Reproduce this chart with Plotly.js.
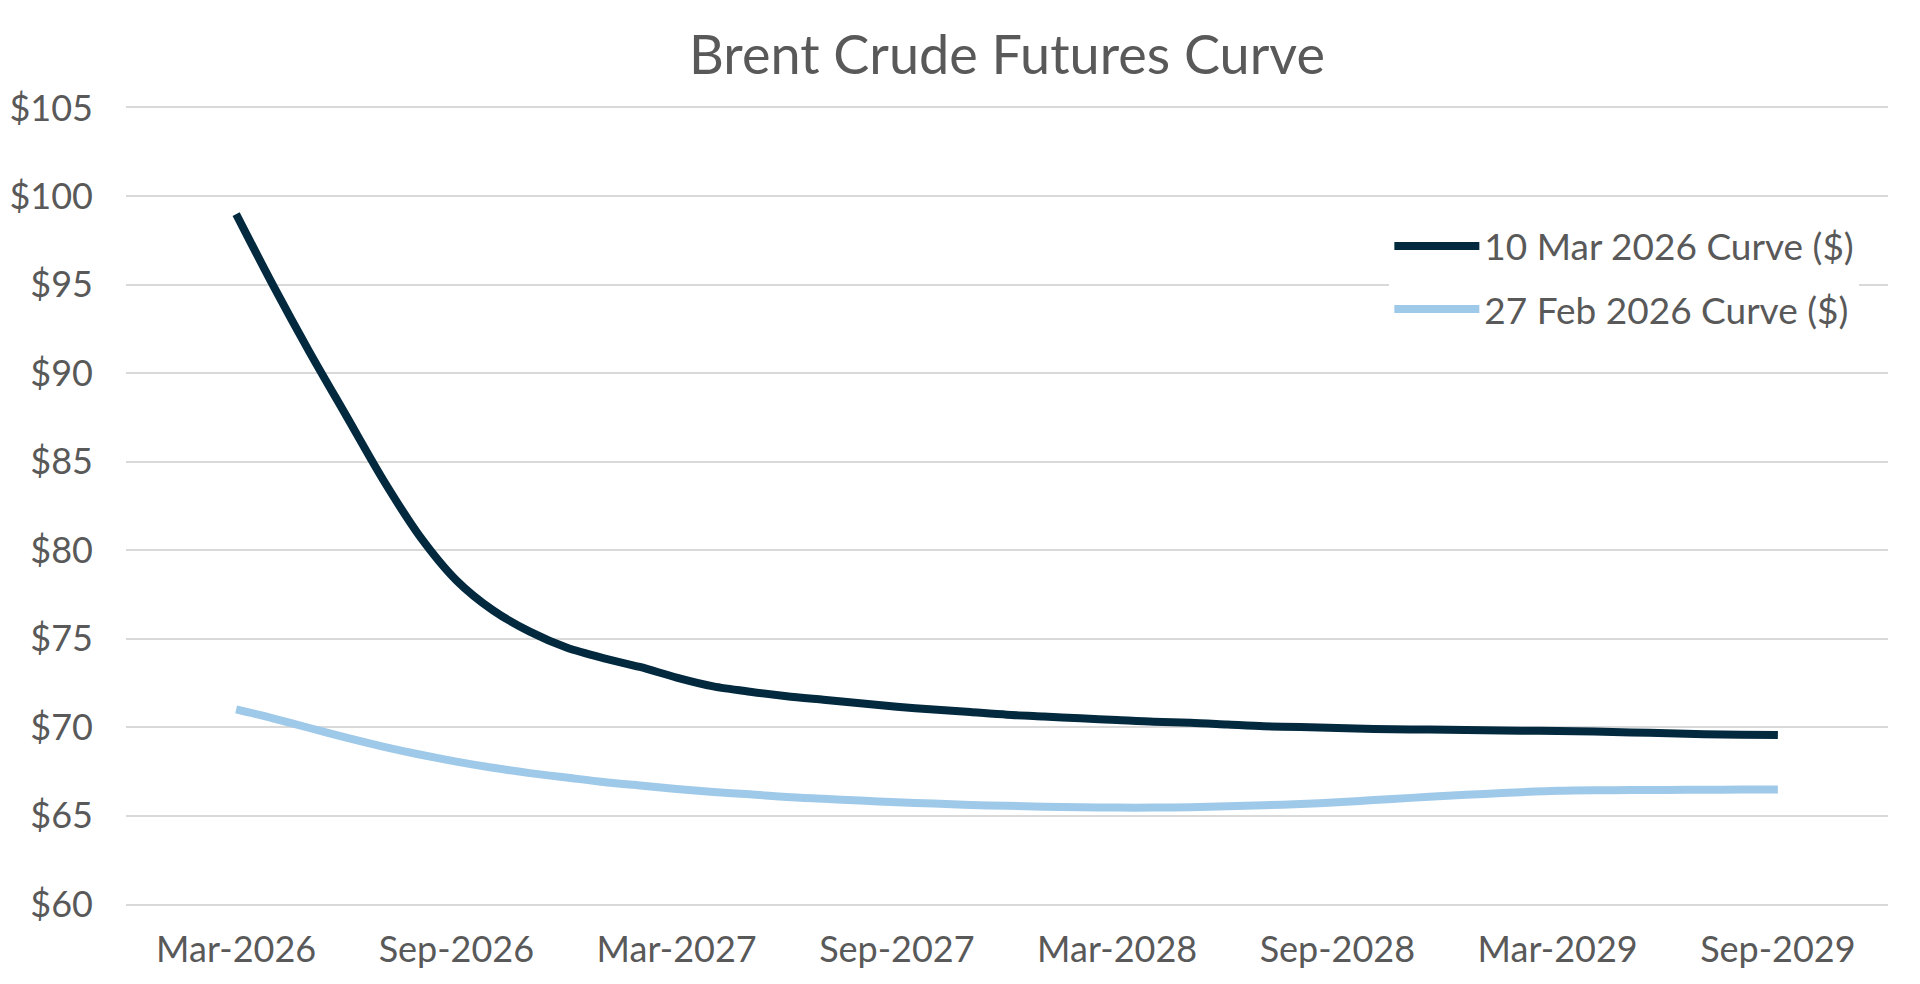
<!DOCTYPE html>
<html><head><meta charset="utf-8">
<script src="https://cdn.plot.ly/plotly-3.0.1.min.js"></script>
<style>html,body{margin:0;padding:0;background:#fff;} #chart{width:1920px;height:984px;}</style>
</head><body><div id="chart"></div>
<script>
const months = [
  'Mar-2026','Apr-2026','May-2026','Jun-2026','Jul-2026','Aug-2026','Sep-2026','Oct-2026','Nov-2026','Dec-2026',
  'Jan-2027','Feb-2027','Mar-2027','Apr-2027','May-2027','Jun-2027','Jul-2027','Aug-2027','Sep-2027','Oct-2027','Nov-2027','Dec-2027',
  'Jan-2028','Feb-2028','Mar-2028','Apr-2028','May-2028','Jun-2028','Jul-2028','Aug-2028','Sep-2028','Oct-2028','Nov-2028','Dec-2028',
  'Jan-2029','Feb-2029','Mar-2029','Apr-2029','May-2029','Jun-2029','Jul-2029','Aug-2029','Sep-2029'
];
const curveMar10 = [
  99.0, 95.0, 91.2, 87.6, 84.0, 80.8, 78.3, 76.6, 75.4, 74.5,
  73.9, 73.4, 72.8, 72.3, 72.0, 71.75, 71.55, 71.35, 71.15, 71.0, 70.85, 70.7,
  70.6, 70.5, 70.4, 70.3, 70.25, 70.15, 70.05, 70.0, 69.95, 69.9, 69.87, 69.85,
  69.82, 69.8, 69.78, 69.75, 69.7, 69.65, 69.6, 69.57, 69.55
];
const curveFeb27 = [
  71.0, 70.5, 69.95, 69.4, 68.9, 68.45, 68.05, 67.7, 67.4, 67.15,
  66.9, 66.7, 66.5, 66.33, 66.2, 66.05, 65.95, 65.85, 65.75, 65.68, 65.6, 65.55,
  65.5, 65.47, 65.45, 65.45, 65.47, 65.52, 65.58, 65.65, 65.75, 65.88, 66.0, 66.12,
  66.22, 66.32, 66.4, 66.43, 66.44, 66.45, 66.46, 66.47, 66.48
];
const tickLabels = ['Mar-2026','Sep-2026','Mar-2027','Sep-2027','Mar-2028','Sep-2028','Mar-2029','Sep-2029'];
const seriesNames = ['10 Mar 2026 Curve ($)', '27 Feb 2026 Curve ($)'];
const chartTitle = 'Brent Crude Futures Curve';

const textColor = '#595959';
const gridColor = '#D9D9D9';
const fontFamily = 'Lato, "Open Sans", sans-serif';

const traces = [
  {x: months, y: curveMar10, name: seriesNames[0], type: 'scatter', mode: 'lines',
   line: {color: '#03293F', width: 8, shape: 'spline', smoothing: 0.8}, legendgroup: 'a'},
  {x: months, y: curveFeb27, name: seriesNames[1], type: 'scatter', mode: 'lines',
   line: {color: '#9FC9E8', width: 8, shape: 'spline', smoothing: 0.8}, legendgroup: 'b'}
];

const layout = {
  width: 1920, height: 984,
  paper_bgcolor: '#ffffff', plot_bgcolor: '#ffffff',
  margin: {l: 126, r: 32, t: 108, b: 80, pad: 0},
  font: {family: fontFamily, color: textColor, size: 36},
  title: {text: chartTitle, font: {size: 54, color: textColor, family: fontFamily},
          x: 0.5, xref: 'paper', xanchor: 'center', y: 0.944, yref: 'container', yanchor: 'middle'},
  xaxis: {type: 'category', range: [-3, 45], tickmode: 'array', tickvals: tickLabels, ticktext: tickLabels,
          showgrid: false, zeroline: false, showline: true, mirror: true, linecolor: gridColor, linewidth: 2,
          ticks: '', ticklabelstandoff: 13,
          tickfont: {size: 36, color: textColor}},
  yaxis: {range: [60, 105], dtick: 5, tick0: 60, tickprefix: '$', showgrid: true, gridcolor: gridColor, gridwidth: 2,
          zeroline: false, showline: false, ticks: '', ticklabelstandoff: 32,
          tickfont: {size: 36, color: textColor}},
  showlegend: true,
  legend: {x: 0.717, xanchor: 'left', y: 0.865, yanchor: 'top', bgcolor: '#ffffff', borderwidth: 0,
           font: {size: 37, color: textColor}, itemwidth: 85, tracegroupgap: 12, traceorder: 'grouped',
           entrywidth: 400, entrywidthmode: 'pixels'}
};

Plotly.newPlot('chart', traces, layout, {displayModeBar: false, staticPlot: true});
</script>
</body></html>
